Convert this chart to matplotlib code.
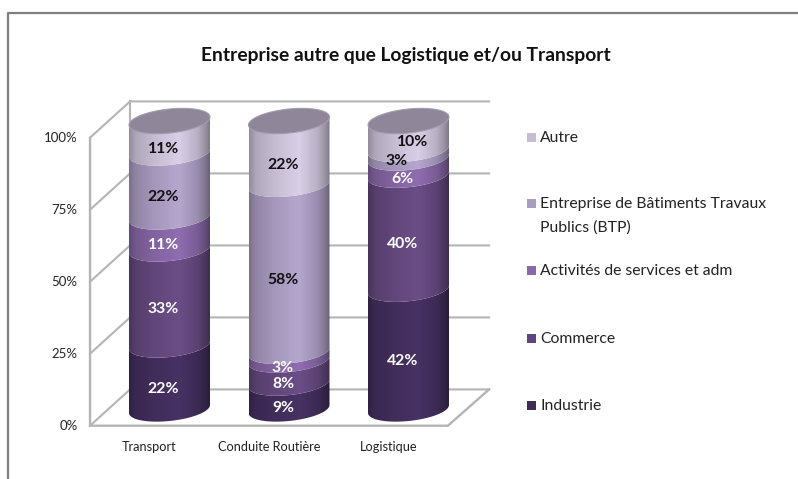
import numpy as np
import matplotlib
matplotlib.use('Agg')
import matplotlib.pyplot as plt
from matplotlib.patches import Polygon, Rectangle
from matplotlib.colors import to_rgb

plt.rcParams['font.family'] = ['Lato', 'DejaVu Sans']

# Data (bottom to top of the stack)
categories = ['Transport', 'Conduite Routière', 'Logistique']
series_names = ['Industrie', 'Commerce', 'Activités de services et adm',
                'Entreprise de Bâtiments Travaux\nPublics (BTP)', 'Autre']
industrie = [22, 9, 42]
commerce = [33, 8, 40]
activites = [11, 3, 6]
btp = [22, 58, 3]
autre = [11, 22, 10]
tick_values = [0, 25, 50, 75, 100]
tick_labels = ['0%', '25%', '50%', '75%', '100%']
title = 'Entreprise autre que Logistique et/ou Transport'

# Styles
series = [industrie, commerce, activites, btp, autre]
colors = ['#432f5e', '#65497f', '#8767a6', '#ab9dc2', '#cdc3da']
swatches = ['#3e2d57', '#5e4480', '#8a68a8', '#a99dbf', '#c6bdd4']
label_colors = ['white', 'white', 'white', '#111111', '#111111']
legend_y = [405, 338, 270, 203, 137]  # pixel rows
grid_color = '#b4b4b4'

# Axes cover the whole figure: one category = 119.5 px, one percent = 2.88 px
PX_X = 1 / 119.5
PX_Y = 1 / 2.88
fig = plt.figure(figsize=(7.98, 4.79), dpi=100)
ax = fig.add_axes([0, 0, 1, 1])
ax.axis('off')
xlim = (-169.5 * PX_X, (798 - 169.5) * PX_X)
ylim = ((409 - 479) * PX_Y, 409 * PX_Y)


def px(x_pix, y_pix):
    return (x_pix - 169.5) * PX_X, (409 - y_pix) * PX_Y


# Outer frame
ax.plot(*zip(px(7.5, 479), px(7.5, 13), px(798, 13)), color='#7f7f7f', lw=1.6)

# Walls and floor
front_x, back_x, right_x, floor_x = -0.665, -0.33, 2.674, 2.33
front_off, back_off = -5.8, 6.8
for t in tick_values:
    ax.plot([front_x, back_x, right_x], [t + front_off, t + back_off, t + back_off],
            color=grid_color, lw=1.5, solid_joinstyle='miter')
ax.plot([front_x, front_x, floor_x, right_x],
        [100 + front_off, front_off, front_off, back_off],
        color=grid_color, lw=1.7, solid_joinstyle='miter')
ax.plot([back_x, back_x], [back_off, 100 + back_off], color=grid_color, lw=1.5)

for t, lab in zip(tick_values, tick_labels):
    ax.text(front_x - 12.5 * PX_X, t + front_off, lab, ha='right', va='center',
            fontsize=9.5, color='#222222')

# Cylinders
a, b, s = 40.5, 12, 4
shade_pos = [0, 0.08, 0.3, 0.62, 0.85, 0.95, 1]
shade_val = [0.72, 0.85, 0.96, 1.06, 0.9, 0.74, 0.62]
shade = np.interp(np.linspace(0, 1, 80), shade_pos, shade_val)


def arc(cx, v, t0, t1):
    t = np.linspace(t0, t1, 60)
    return np.column_stack([cx + a * np.cos(t) * PX_X,
                            v + (s * np.cos(t) - b * np.sin(t)) * PX_Y])


for i, cat in enumerate(categories):
    vals = np.array([ser[i] for ser in series], dtype=float)
    tops = np.cumsum(vals) / vals.sum() * 100
    bottoms = np.concatenate([[0], tops[:-1]])
    for j, (v0, v1) in enumerate(zip(bottoms, tops)):
        pts = np.vstack([arc(i, v0, np.pi, 0), arc(i, v1, 0, np.pi)])
        clip = Polygon(pts, closed=True, transform=ax.transData)
        rgb = np.clip(np.outer(shade, to_rgb(colors[j])), 0, 1)[np.newaxis, :, :]
        im = ax.imshow(rgb, extent=(i - a * PX_X, i + a * PX_X, pts[:, 1].min(), pts[:, 1].max()),
                       aspect='auto', interpolation='bilinear', zorder=3)
        im.set_clip_path(clip)
    ax.add_patch(Polygon(arc(i, 100, 0, 2 * np.pi), closed=True, fc='#8f8699', ec='#a39bab',
                         lw=0.8, zorder=4))
    ax.text(i - 20 * PX_X, (409 - 447) * PX_Y, cat, ha='center', va='center',
            fontsize=9.2, color='#222222')

# Value labels, nudged only where two would collide
nudges = {(2, 3): (-6, 5), (2, 4): (10, 5)}
for i in range(len(categories)):
    vals = np.array([ser[i] for ser in series], dtype=float)
    tops = np.cumsum(vals) / vals.sum() * 100
    mids = tops - vals / vals.sum() * 50
    for j, ser in enumerate(series):
        dx, dy = nudges.get((i, j), (0, 0))
        ax.text(i + (dx - 6) * PX_X, mids[j] + (dy - 12) * PX_Y, f'{ser[i]}%', ha='center', va='center',
                fontsize=11.3, fontweight='bold', color=label_colors[j], zorder=5)

# Legend
for name, col, y in zip(series_names, swatches, legend_y):
    x0, y0 = px(526.5, y + 4.5)
    ax.add_patch(Rectangle((x0, y0), 9 * PX_X, 9 * PX_Y, fc=col, ec='none'))
    multi = '\n' in name
    x1, y1 = px(540, y - 6 if multi else y + 1)
    ax.text(x1, y1, name, ha='left', va='top' if multi else 'center',
            fontsize=11.3, color='#222222', linespacing=1.8)

ax.text(*px(406, 56), title, ha='center', va='center', fontsize=13.9, fontweight='bold', color='#111111')

ax.set_xlim(xlim)
ax.set_ylim(ylim)
fig.savefig('out.png', dpi=100)
